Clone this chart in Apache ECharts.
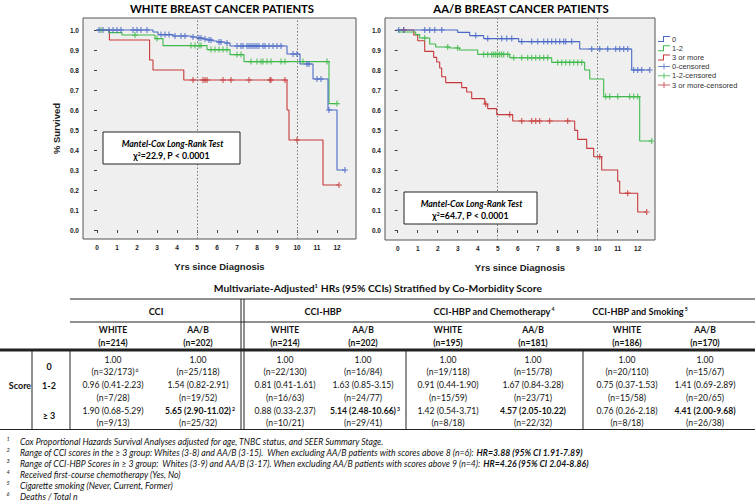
<!DOCTYPE html>
<html><head><meta charset="utf-8">
<script src="https://cdn.jsdelivr.net/npm/echarts@6.0.0/dist/echarts.min.js"></script>
<style>html,body{margin:0;padding:0;background:#fff;}#chart{width:755px;height:504px;}</style>
</head><body><div id="chart"></div>
<script>
// ---------------- Kaplan-Meier data ----------------
const yearTicks = [0,1,2,3,4,5,6,7,8,9,10,11,12];
const survivalTicks = [0,0.1,0.2,0.3,0.4,0.5,0.6,0.7,0.8,0.9,1.0];
const groupNames = ['0','1-2','3 or more'];
const censorNames = ['0-censored','1-2-censored','3 or more-censored'];
const chartTitles = ['WHITE BREAST CANCER PATIENTS','AA/B BREAST CANCER PATIENTS'];
const testStats = ['χ{sup|2}=22.9, P < 0.0001','χ{sup|2}=64.7, P < 0.0001'];

// WHITE patients: step times / survival, censor times
const whiteTime0 = [0,2.8,3.05,3.8,4.7,5.0,5.3,5.5,5.8,6.0,6.4,6.65,9.5,10.15,10.8,11.55,12.0,12.4];
const whiteSurv0 = [1,0.99,0.977,0.97,0.965,0.96,0.955,0.95,0.945,0.94,0.935,0.92,0.88,0.83,0.755,0.60,0.30,0.30];
const whiteCens0 = [0.1,0.3,0.6,0.8,1.0,1.2,1.8,2.0,2.2,2.5,3.2,3.4,3.6,3.9,4.2,4.4,4.8,5.1,5.2,5.4,5.6,5.7,6.1,6.2,6.5,7.0,7.2,7.3,7.5,7.6,7.7,7.8,7.9,8.0,8.1,8.3,8.4,8.6,8.8,9.0,9.2,9.8,10.0,10.5,10.6,11.0,11.2,11.6,12.4];
const whiteTime12 = [0,0.6,1.25,2.9,3.3,5.5,6.65,7.35,11.6,12.0];
const whiteSurv12 = [1,0.987,0.975,0.957,0.922,0.902,0.877,0.842,0.632,0.632];
const whiteCens12 = [0.2,1.9,3.0,4.7,4.9,5.1,5.2,5.7,5.9,6.1,6.3,6.5,7.0,7.2,7.7,8.0,8.2,8.3,8.5,8.7,9.2,9.4,10.3,11.5,12.0];
const whiteTime3 = [0,0.62,2.63,2.8,4.34,9.5,9.6,11.3,12.1];
const whiteSurv3 = [1,0.95,0.85,0.80,0.75,0.60,0.45,0.225,0.225];
const whiteCens3 = [4.8,5.3,5.4,5.5,6.3,6.7,7.6,8.65,8.7,9.4,10.0,12.1];

// AA/B patients
const aabTime0 = [0,3.0,3.6,4.3,6.05,9.1,11.7,12.6];
const aabSurv0 = [1,0.988,0.972,0.957,0.942,0.905,0.80,0.80];
const aabCens0 = [0.05,0.3,1.35,1.6,1.85,2.2,3.9,4.5,5.2,5.45,5.7,6.2,6.7,7.0,7.3,7.5,7.7,7.9,8.1,8.3,8.4,8.7,9.7,10.1,10.5,10.9,11.1,11.3,11.5,11.8,12.0,12.2,12.6];
const aabTime12 = [0,0.05,0.9,1.1,1.6,1.9,2.6,3.1,4.0,5.6,7.7,9.35,9.6,10.3,12.1,12.7];
const aabSurv12 = [1,0.99,0.977,0.96,0.93,0.915,0.91,0.90,0.878,0.861,0.838,0.80,0.755,0.667,0.445,0.445];
const aabCens12 = [1.35,2.5,3.0,4.3,4.5,4.7,4.8,4.9,5.0,5.1,5.2,5.3,5.5,5.8,6.2,6.5,6.7,6.9,7.1,7.3,7.5,8.0,8.2,8.4,8.6,8.8,9.0,9.2,10.4,10.6,11.0,11.6,11.8,12.0,12.7];
const aabTime3 = [0,0.8,1.0,1.35,1.8,1.95,2.1,2.2,2.4,3.2,3.45,3.7,4.35,4.5,4.95,5.75,8.85,9.0,9.45,9.8,10.2,11.0,11.1,12.0,12.45];
const aabSurv3 = [1,0.975,0.946,0.893,0.863,0.84,0.81,0.766,0.737,0.712,0.69,0.657,0.63,0.607,0.577,0.545,0.498,0.453,0.408,0.366,0.30,0.244,0.184,0.09,0.09];
const aabCens3 = [0.3,4.4,5.6,6.2,6.7,6.9,7.1,7.6,8.5,10.1,11.5,12.45];

// ---------------- Table data ----------------
const tableTitle = 'Multivariate-Adjusted{s|1} HRs (95% CCIs) Stratified by Co-Morbidity Score';
const modelNames = ['CCI','CCI-HBP','CCI-HBP and Chemotherapy','CCI-HBP and Smoking'];
const modelNotes = ['','','4','5'];
const raceLabels = ['WHITE','AA/B','WHITE','AA/B','WHITE','AA/B','WHITE','AA/B'];
const raceN = [214,202,214,202,195,181,186,170];
const scoreLabels = ['0','1-2','≥ 3'];
const hrScore0 = ['1.00','1.00','1.00','1.00','1.00','1.00','1.00','1.00'];
const hrScore12 = ['0.96 (0.41-2.23)','1.54 (0.82-2.91)','0.81 (0.41-1.61)','1.63 (0.85-3.15)','0.91 (0.44-1.90)','1.67 (0.84-3.28)','0.75 (0.37-1.53)','1.41 (0.69-2.89)'];
const hrScore3 = ['1.90 (0.68-5.29)','5.65 (2.90-11.02)','0.88 (0.33-2.37)','5.14 (2.48-10.66)','1.42 (0.54-3.71)','4.57 (2.05-10.22)','0.76 (0.26-2.18)','4.41 (2.00-9.68)'];
const deaths0 = ['32/173','25/118','22/130','16/84','19/118','15/78','20/110','15/67'];
const deaths12 = ['7/28','19/52','16/63','24/77','15/59','23/71','15/58','20/65'];
const deaths3 = ['9/13','25/32','10/21','29/41','8/18','22/32','8/18','26/38'];
const footnotes = [
  'Cox Proportional Hazards Survival Analyses adjusted for age, TNBC status, and SEER Summary Stage.',
  'Range of CCI scores in the ≥ 3 group: Whites (3-8) and AA/B (3-15).  When excluding AA/B patients with scores above 8 (n=6): {b|HR=3.88 (95% CI 1.91-7.89)}',
  'Range of CCI-HBP Scores in ≥ 3 group:  Whites (3-9) and AA/B (3-17). When excluding AA/B patients with scores above 9 (n=4): {b|HR=4.26 (95% CI 2.04-8.86)}',
  'Received first-course chemotherapy (Yes, No)',
  'Cigarette smoking (Never, Current, Former)',
  'Deaths / Total n'
];

// ---------------- helpers ----------------
const BLUE = '#4a69c6', GREEN = '#3fb94a', RED = '#c8383a';
const colors = [BLUE, GREEN, RED];
const plusPath = 'path://M2,0H3V2H5V3H3V5H2V3H0V2H2Z';
function stepData(T, S) { return T.map((t, i) => [t, S[i]]); }
function valueAt(T, S, t) { let v = S[0]; for (let i = 0; i < T.length; i++) if (T[i] <= t) v = S[i]; return v; }
function censData(T, S, C) { return C.map(t => [t, valueAt(T, S, t)]); }

const curves = [
  [[whiteTime0, whiteSurv0, whiteCens0], [whiteTime12, whiteSurv12, whiteCens12], [whiteTime3, whiteSurv3, whiteCens3]],
  [[aabTime0, aabSurv0, aabCens0], [aabTime12, aabSurv12, aabCens12], [aabTime3, aabSurv3, aabCens3]]
];

const gridDefs = [
  {left: 83, top: 18, width: 273, height: 221, xmin: -0.7, xmax: 12.95, ymin: -0.045, ymax: 1.06},
  {left: 385, top: 18, width: 270, height: 222, xmin: -0.635, xmax: 12.865, ymin: -0.05, ymax: 1.06}
];

const grids = [], xAxes = [], yAxes = [], series = [];
gridDefs.forEach((d, gi) => {
  grids.push({left: d.left, top: d.top, width: d.width, height: d.height, show: true,
    backgroundColor: '#efefef', borderColor: '#555', borderWidth: 1});
  xAxes.push({type: 'value', gridIndex: gi, min: d.xmin, max: d.xmax,
    axisLine: {show: false}, splitLine: {show: false},
    axisTick: {show: true, customValues: yearTicks, length: 3, lineStyle: {color: '#444'}},
    axisLabel: {customValues: yearTicks, fontSize: 6.5, fontWeight: 'bold', color: '#222', margin: 5, fontFamily: 'Liberation Sans'},
    name: 'Yrs since Diagnosis', nameLocation: 'middle', nameGap: 22,
    nameTextStyle: {fontFamily: 'Liberation Sans', fontWeight: 'bold', fontSize: 9.5, color: '#222'}});
  yAxes.push({type: 'value', gridIndex: gi, min: d.ymin, max: d.ymax,
    axisLine: {show: false}, splitLine: {show: false},
    axisTick: {show: true, customValues: survivalTicks, length: 3, lineStyle: {color: '#444'}},
    axisLabel: {customValues: survivalTicks, fontSize: 6.5, fontWeight: 'bold', color: '#222', margin: 4,
      fontFamily: 'Liberation Sans', formatter: v => v.toFixed(1)},
    name: gi === 0 ? '% Survived' : '', nameLocation: 'middle', nameGap: 22,
    nameTextStyle: {fontFamily: 'Liberation Sans', fontWeight: 'bold', fontSize: 9.5, color: '#222'}});
  curves[gi].forEach((c, k) => {
    const s = {type: 'line', name: groupNames[k], xAxisIndex: gi, yAxisIndex: gi, step: 'end',
      data: stepData(c[0], c[1]), showSymbol: false, color: colors[k],
      lineStyle: {width: 1.1, color: colors[k]}, z: 3 + (2 - k)};
    if (k === 0) {
      s.markLine = {silent: true, symbol: 'none', label: {show: false},
        lineStyle: {type: [1.5, 2], color: '#777', width: 1}, data: [{xAxis: 5}, {xAxis: 10}]};
    }
    series.push(s);
  });
  curves[gi].forEach((c, k) => {
    series.push({type: 'scatter', name: censorNames[k], xAxisIndex: gi, yAxisIndex: gi,
      data: censData(c[0], c[1], c[2]), symbol: plusPath, symbolSize: 6, color: colors[k],
      itemStyle: {color: colors[k]}, z: 6 + (2 - k)});
  });
});

// ---------------- graphic: titles, test boxes, table ----------------
const G = [];
const FONT = 'Lato';
const BODY = 8.6;
function txt(x, y, text, o) {
  G.push({type: 'text', silent: true, z: 10, style: Object.assign({x: x, y: y, text: text, align: 'center',
    verticalAlign: 'middle', fill: '#111', fontFamily: FONT, fontSize: BODY}, o || {})});
}
function hline(x1, x2, y, w, c) { G.push({type: 'line', silent: true, z: 10, shape: {x1: x1, y1: y, x2: x2, y2: y}, style: {stroke: c || '#222', lineWidth: w || 1}}); }
function vline(x, y1, y2, w, c) { G.push({type: 'line', silent: true, z: 10, shape: {x1: x, y1: y1, x2: x, y2: y2}, style: {stroke: c || '#222', lineWidth: w || 1}}); }

// chart titles
txt(222, 8, chartTitles[0], {fontWeight: 'bold', fontSize: 11.3, fill: '#000'});
txt(521, 8, chartTitles[1], {fontWeight: 'bold', fontSize: 11.3, fill: '#000'});

// Mantel-Cox boxes
const boxes = [{x: 103, y: 132, w: 137, h: 32}, {x: 404, y: 192, w: 133, h: 32}];
boxes.forEach((b, i) => {
  G.push({type: 'rect', silent: true, z: 9, shape: {x: b.x, y: b.y, width: b.w, height: b.h},
    style: {fill: '#fff', stroke: '#222', lineWidth: 1}});
  txt(b.x + b.w / 2 + 1, b.y + 11, 'Mantel-Cox Long-Rank Test', {fontStyle: 'italic', fontWeight: 'bold', fontSize: 8.8, fill: '#000'});
  txt(b.x + b.w / 2, b.y + 23.5, testStats[i], {fontSize: 8.8, fontWeight: 'bold', fill: '#000',
    rich: {sup: {fontSize: 5, fontFamily: FONT, fontWeight: 'bold', fill: '#000', verticalAlign: 'top', padding: [0, 0, 4, 0]}}});
});

// table
const supRich = (bold, size) => ({
  m: {fontFamily: FONT, fontSize: size || BODY, fontWeight: bold ? 'bold' : 'normal', fill: '#111'},
  s: {fontFamily: FONT, fontSize: 5.2, fontWeight: bold ? 'bold' : 'normal', fill: '#111', padding: [0, 0, 4, 1]}
});
txt(378, 288, '{m|' + tableTitle.replace('{s|1}', '}{s|1}{m|') + '}', {rich: {
  m: {fontFamily: FONT, fontSize: 10.3, fontWeight: 'bold', fill: '#111'},
  s: {fontFamily: FONT, fontSize: 5.8, fontWeight: 'bold', fill: '#111', padding: [0, 0, 5, 0]}}});

const colX = [113, 198, 285, 363, 448, 533, 627, 705];
const modelX = [156, 323, 494, 640];
const rowY = [360, 372, 384.5, 397.5, 410.5, 423];
modelNames.forEach((m, i) => {
  const t = modelNotes[i] ? '{m|' + m + '}{s|' + modelNotes[i] + '}' : '{m|' + m + '}';
  txt(modelX[i], 311, t, {rich: supRich(true, 9.2)});
});
raceLabels.forEach((r, i) => {
  txt(colX[i], 330, r, {fontWeight: 'bold'});
  txt(colX[i], 342.5, '(n=' + raceN[i] + ')', {fontWeight: 'bold'});
});
const hrRows = [hrScore0, hrScore12, hrScore3];
const deathRows = [deaths0, deaths12, deaths3];
const hrNotes = {'2,1': '2', '2,3': '3'};
const nNotes = {'0,0': '6'};
hrRows.forEach((row, r) => {
  row.forEach((v, c) => {
    const bold = r === 2 && c % 2 === 1;
    const hn = hrNotes[r + ',' + c];
    txt(colX[c] + (hn ? 2 : 0), rowY[r * 2], hn ? '{m|' + v + '}{s|' + hn + '}' : '{m|' + v + '}', {rich: supRich(bold)});
    const nn = nNotes[r + ',' + c];
    const nt = '(n=' + deathRows[r][c] + ')';
    txt(colX[c] + (nn ? 2 : 0), rowY[r * 2 + 1], nn ? '{m|' + nt + '}{s|' + nn + '}' : '{m|' + nt + '}', {rich: supRich(false)});
  });
});
txt(20, 385, 'Score', {fontWeight: 'bold', fontSize: 9});
const scoreY = [366, 385, 415];
scoreLabels.forEach((s, i) => txt(49, scoreY[i], s, {fontWeight: 'bold', fontSize: 9}));

// table rules
hline(70, 755, 299, 1.2);
hline(70, 755, 322, 1);
hline(0, 755, 350, 3);
hline(0, 755, 429.5, 1.2);
vline(32, 351, 429.5, 1);
vline(70, 351, 429.5, 1);
vline(241, 299, 429.5, 1);
vline(244, 299, 429.5, 1);
vline(406, 351, 429.5, 1);
vline(583, 351, 429.5, 1);

// footnotes
const footY = [441, 452, 463, 474, 485, 496];
footnotes.forEach((f, i) => {
  txt(8, footY[i] - 2, String(i + 1), {fontSize: 5.5, align: 'center', fontStyle: 'italic', fill: '#111'});
  const t = '{i|' + f.replace(/\{b\|([^}]*)\}/, '}{b|$1}{i|') + '}';
  txt(20, footY[i], t, {align: 'left', rich: {
    i: {fontFamily: FONT, fontSize: 8.7, fontStyle: 'italic', fill: '#111'},
    b: {fontFamily: FONT, fontSize: 8.7, fontStyle: 'italic', fontWeight: 'bold', fill: '#111'}}});
});

// ---------------- legend ----------------
const stepIcon = 'path://M0,5H5V0H12V1H6V6H0Z';
const censIcon = 'path://M0,2.5H5.5V0H6.5V2.5H12V3.5H6.5V6H5.5V3.5H0Z';
const legendData = groupNames.map((n, k) => ({name: n, icon: stepIcon, itemStyle: {color: colors[k], borderWidth: 0}}))
  .concat(censorNames.map((n, k) => ({name: n, icon: censIcon, itemStyle: {color: colors[k], borderWidth: 0}})));

const chart = echarts.init(document.getElementById('chart'), null, {renderer: 'svg'});
chart.setOption({
  animation: false,
  backgroundColor: '#fff',
  grid: grids, xAxis: xAxes, yAxis: yAxes, series: series,
  legend: {data: legendData, orient: 'vertical', left: 658, top: 35, padding: 0, itemGap: 1.2,
    itemWidth: 12, itemHeight: 6, selectedMode: false,
    textStyle: {fontFamily: 'Liberation Sans', fontSize: 7.5, color: '#333', lineHeight: 7, padding: [0, 0, 0, -3]}},
  graphic: G
});
</script></body></html>
